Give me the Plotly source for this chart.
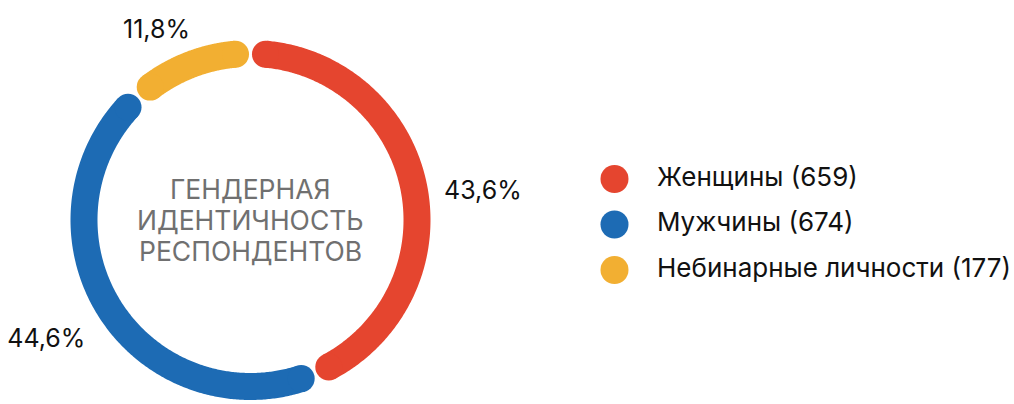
import numpy as np
import plotly.graph_objects as go

# ---- data ----
categories = ["Женщины", "Мужчины", "Небинарные личности"]
counts = [659, 674, 177]
pct_labels = ["43,6%", "44,6%", "11,8%"]
colors = ["#E5452F", "#1D6BB4", "#F2AF32"]
center_title = ["ГЕНДЕРНАЯ", "ИДЕНТИЧНОСТЬ", "РЕСПОНДЕНТОВ"]

# ---- style / layout constants (pixel units, origin at ring centre) ----
W, H = 1014, 404
CX, CY = 250.5, 220          # ring centre in page pixels (from top)
R = 166.5                    # centre-line radius
STROKE = 27                  # ring thickness
GAP_PX = 15                  # arc-length trimmed at each segment end (cap + gap)
LABEL_R = [234, 237, 210]    # label distance from centre
LABEL_DTHETA = [4.8, 2, -5.5]  # label angular offset from segment middle (deg)
FONT = "Inter"

fig = go.Figure()

total = sum(counts)
fracs = [c / total for c in counts]
starts = np.cumsum([0] + fracs[:-1]) * 360
ends = np.cumsum(fracs) * 360
trim = np.degrees(GAP_PX / R)

for i, cat in enumerate(categories):
    a0, a1 = starts[i] + trim, ends[i] - trim
    th = np.radians(np.linspace(a0, a1, 300))
    x = R * np.sin(th)
    y = R * np.cos(th)
    fig.add_trace(go.Scatter(x=x, y=y, mode="lines",
                             line=dict(color=colors[i], width=STROKE, simplify=False),
                             hoverinfo="skip", showlegend=False))
    fig.add_trace(go.Scatter(x=[x[0], x[-1]], y=[y[0], y[-1]], mode="markers",
                             marker=dict(color=colors[i], size=STROKE, line=dict(width=0)),
                             hoverinfo="skip", showlegend=False))
    mid = np.radians((starts[i] + ends[i]) / 2 + LABEL_DTHETA[i])
    fig.add_trace(go.Scatter(x=[LABEL_R[i] * np.sin(mid)], y=[LABEL_R[i] * np.cos(mid)],
                             mode="text", text=[pct_labels[i]], textposition="middle center",
                             textfont=dict(family=FONT, size=25, color="#111111"),
                             hoverinfo="skip", showlegend=False))

# centre title (three lines)
line_pitch = 31
for k, t in enumerate(center_title):
    fig.add_annotation(x=0, y=(1 - k) * line_pitch, text=t, showarrow=False,
                       xanchor="center", yanchor="middle",
                       font=dict(family="Inter", size=26.5, color="#707070"))

# custom legend
LEG_X = 614.5 - CX
LEG_TX = 657 - CX
LEG_Y0 = CY - 179
LEG_DY = 45.5
leg_y = [LEG_Y0 - k * LEG_DY for k in range(len(categories))]
fig.add_trace(go.Scatter(x=[LEG_X] * len(categories), y=leg_y, mode="markers",
                         marker=dict(color=colors, size=28, line=dict(width=0)),
                         hoverinfo="skip", showlegend=False))
fig.add_trace(go.Scatter(x=[LEG_TX] * len(categories), y=leg_y, mode="text",
                         text=[f"{c} ({n})" for c, n in zip(categories, counts)],
                         textposition="middle right",
                         textfont=dict(family=FONT, size=26, color="#111111"),
                         hoverinfo="skip", showlegend=False))

fig.update_traces(cliponaxis=False)
fig.update_xaxes(range=[-CX, W - CX], visible=False, fixedrange=True)
fig.update_yaxes(range=[CY - H, CY], visible=False, fixedrange=True)
fig.update_layout(width=W, height=H, margin=dict(l=0, r=0, t=0, b=0),
                  paper_bgcolor="white", plot_bgcolor="white", showlegend=False)

fig.write_html("out.html", config={"displayModeBar": False, "staticPlot": True},
               post_script="document.body.style.margin='0';document.body.style.overflow='hidden';")
